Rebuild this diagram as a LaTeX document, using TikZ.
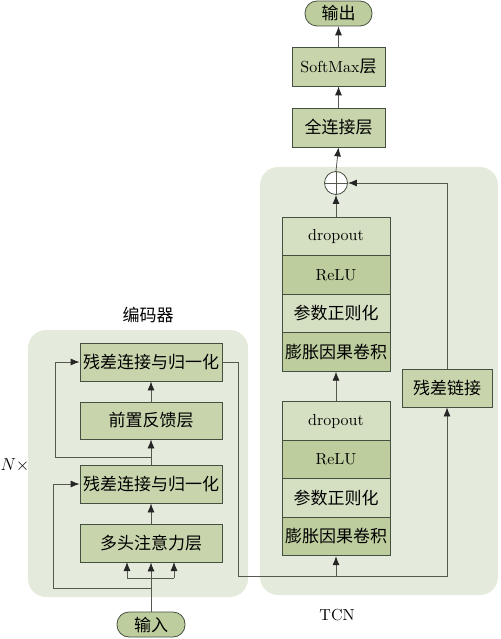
\documentclass[tikz,border=0pt]{standalone}
\usepackage{fontspec}
\setmainfont{lmroman10-regular.otf}
\newfontfamily\cjk{Noto Sans CJK SC}
\usepackage{xcolor}
\usetikzlibrary{arrows.meta,positioning,calc}
\definecolor{grpBg}{HTML}{E5EBDC}
\definecolor{boxMid}{HTML}{C8D5AC}
\definecolor{boxLight}{HTML}{D5DFC2}
\definecolor{boxDark}{HTML}{BDCD9D}
\definecolor{edgeCol}{HTML}{44503F}
\definecolor{lineCol}{HTML}{55594F}

\begin{document}
\begin{tikzpicture}[x=1pt, y=-1pt, font=\fontsize{16}{18}\selectfont,
    layer/.style={draw=edgeCol, line width=0.8pt, inner sep=0pt, align=center},
    pill/.style={layer, rounded corners=12pt, fill=boxDark, minimum width=68pt, minimum height=25pt},
    conn/.style={draw=lineCol, line width=0.8pt},
    arr/.style={conn, -{Latex[length=9pt,width=7pt,color=black!85]}}]
    \useasboundingbox (0,0) rectangle (500,639);
    % group backgrounds
    \fill[grpBg, rounded corners=18pt] (28,330) rectangle (248,597);
    \fill[grpBg, rounded corners=18pt] (260,167) rectangle (498,595);
    \node (enclbl) at (148,315) {\cjk\fontsize{17}{19}\selectfont 编码器};
    \node (tcnlbl) at (337,615) {TCN};
    \node (nrep) at (15,465) {\fontsize{17}{19}\selectfont$N\times$};

    % encoder
    \node[layer, fill=boxMid, minimum width=142pt, minimum height=38pt] (addtop) at (151,362) {\cjk\fontsize{17}{19}\selectfont 残差连接与归一化};
    \node[layer, fill=boxMid, minimum width=142pt, minimum height=37pt] (ffn) at (151,420.5) {\cjk\fontsize{17}{19}\selectfont 前置反馈层};
    \node[layer, fill=boxMid, minimum width=142pt, minimum height=38pt] (addbot) at (151,484) {\cjk\fontsize{17}{19}\selectfont 残差连接与归一化};
    \node[layer, fill=boxMid, minimum width=142pt, minimum height=38pt] (mha) at (151,543) {\cjk\fontsize{17}{19}\selectfont 多头注意力层};
    \node[pill] (inp) at (151,624.5) {\cjk\fontsize{17}{19}\selectfont 输入};

    % TCN lower block
    \node[layer, fill=boxLight, minimum width=108pt, minimum height=38.5pt] (ldrop) at (336,421) {dropout};
    \node[layer, fill=boxDark, minimum width=108pt, minimum height=38.5pt] (lrelu) at (336,459.5) {ReLU};
    \node[layer, fill=boxLight, minimum width=108pt, minimum height=38.5pt] (lnorm) at (336,498) {\cjk\fontsize{17}{19}\selectfont 参数正则化};
    \node[layer, fill=boxDark, minimum width=108pt, minimum height=38.5pt] (lconv) at (336,536.5) {\cjk\fontsize{17}{19}\selectfont 膨胀因果卷积};
    % TCN upper block
    \node[layer, fill=boxLight, minimum width=108pt, minimum height=38.5pt] (udrop) at (336,236.5) {dropout};
    \node[layer, fill=boxDark, minimum width=108pt, minimum height=38.5pt] (urelu) at (336,275) {ReLU};
    \node[layer, fill=boxLight, minimum width=108pt, minimum height=38.5pt] (unorm) at (336,313.5) {\cjk\fontsize{17}{19}\selectfont 参数正则化};
    \node[layer, fill=boxDark, minimum width=108pt, minimum height=38.5pt] (uconv) at (336,352) {\cjk\fontsize{17}{19}\selectfont 膨胀因果卷积};
    \node[layer, fill=boxMid, minimum width=90pt, minimum height=38pt] (resid) at (447,388) {\cjk\fontsize{17}{19}\selectfont 残差链接};
    \node[draw=edgeCol, line width=0.8pt, circle, fill=white, minimum size=23pt, inner sep=0pt] (sum) at (336,183) {};
    \draw[conn] (sum.north) -- (sum.south) (sum.west) -- (sum.east);

    % output head
    \node[layer, fill=boxMid, minimum width=93pt, minimum height=39pt] (fc) at (338.5,127.5) {\cjk\fontsize{17}{19}\selectfont 全连接层};
    \node[layer, fill=boxMid, minimum width=93pt, minimum height=39pt] (soft) at (338.5,66.5) {SoftMax{\cjk\fontsize{17}{19}\selectfont 层}};
    \node[pill, minimum width=67pt] (outp) at (338.5,13.5) {\cjk\fontsize{17}{19}\selectfont 输出};

    % encoder connections
    \coordinate (split) at (151,578);
    \draw[conn] (inp.north) -- (split);
    \draw[conn] (127,578) -- (174,578);
    \draw[arr] (split) -- (mha.south);
    \draw[arr] (127,578) -- (127,562);
    \draw[arr] (174,578) -- (174,562);
    \draw[arr] (151,588) -- (53,588) |- (addbot.west);
    \draw[arr] (mha.north) -- (addbot.south);
    \draw[arr] (addbot.north) -- (ffn.south);
    \draw[arr] (151,457) -- (55,457) |- (addtop.west);
    \draw[arr] (ffn.north) -- (addtop.south);

    % encoder to TCN
    \coordinate (tap) at (336,576);
    \draw[arr] (addtop.east) -- (238,362) -- (238,576) -- (447,576) -- (resid.south);
    \draw[arr] (tap) -- (lconv.south);
    \draw[arr] (ldrop.north) -- (uconv.south);
    \draw[arr] (udrop.north) -- (sum.south);
    \draw[arr] (resid.north) |- (sum.east);
    \draw[arr] (sum.north) -- (fc.south);
    \draw[arr] (fc.north) -- (soft.south);
    \draw[arr] (soft.north) -- (outp.south);
\end{tikzpicture}
\end{document}
